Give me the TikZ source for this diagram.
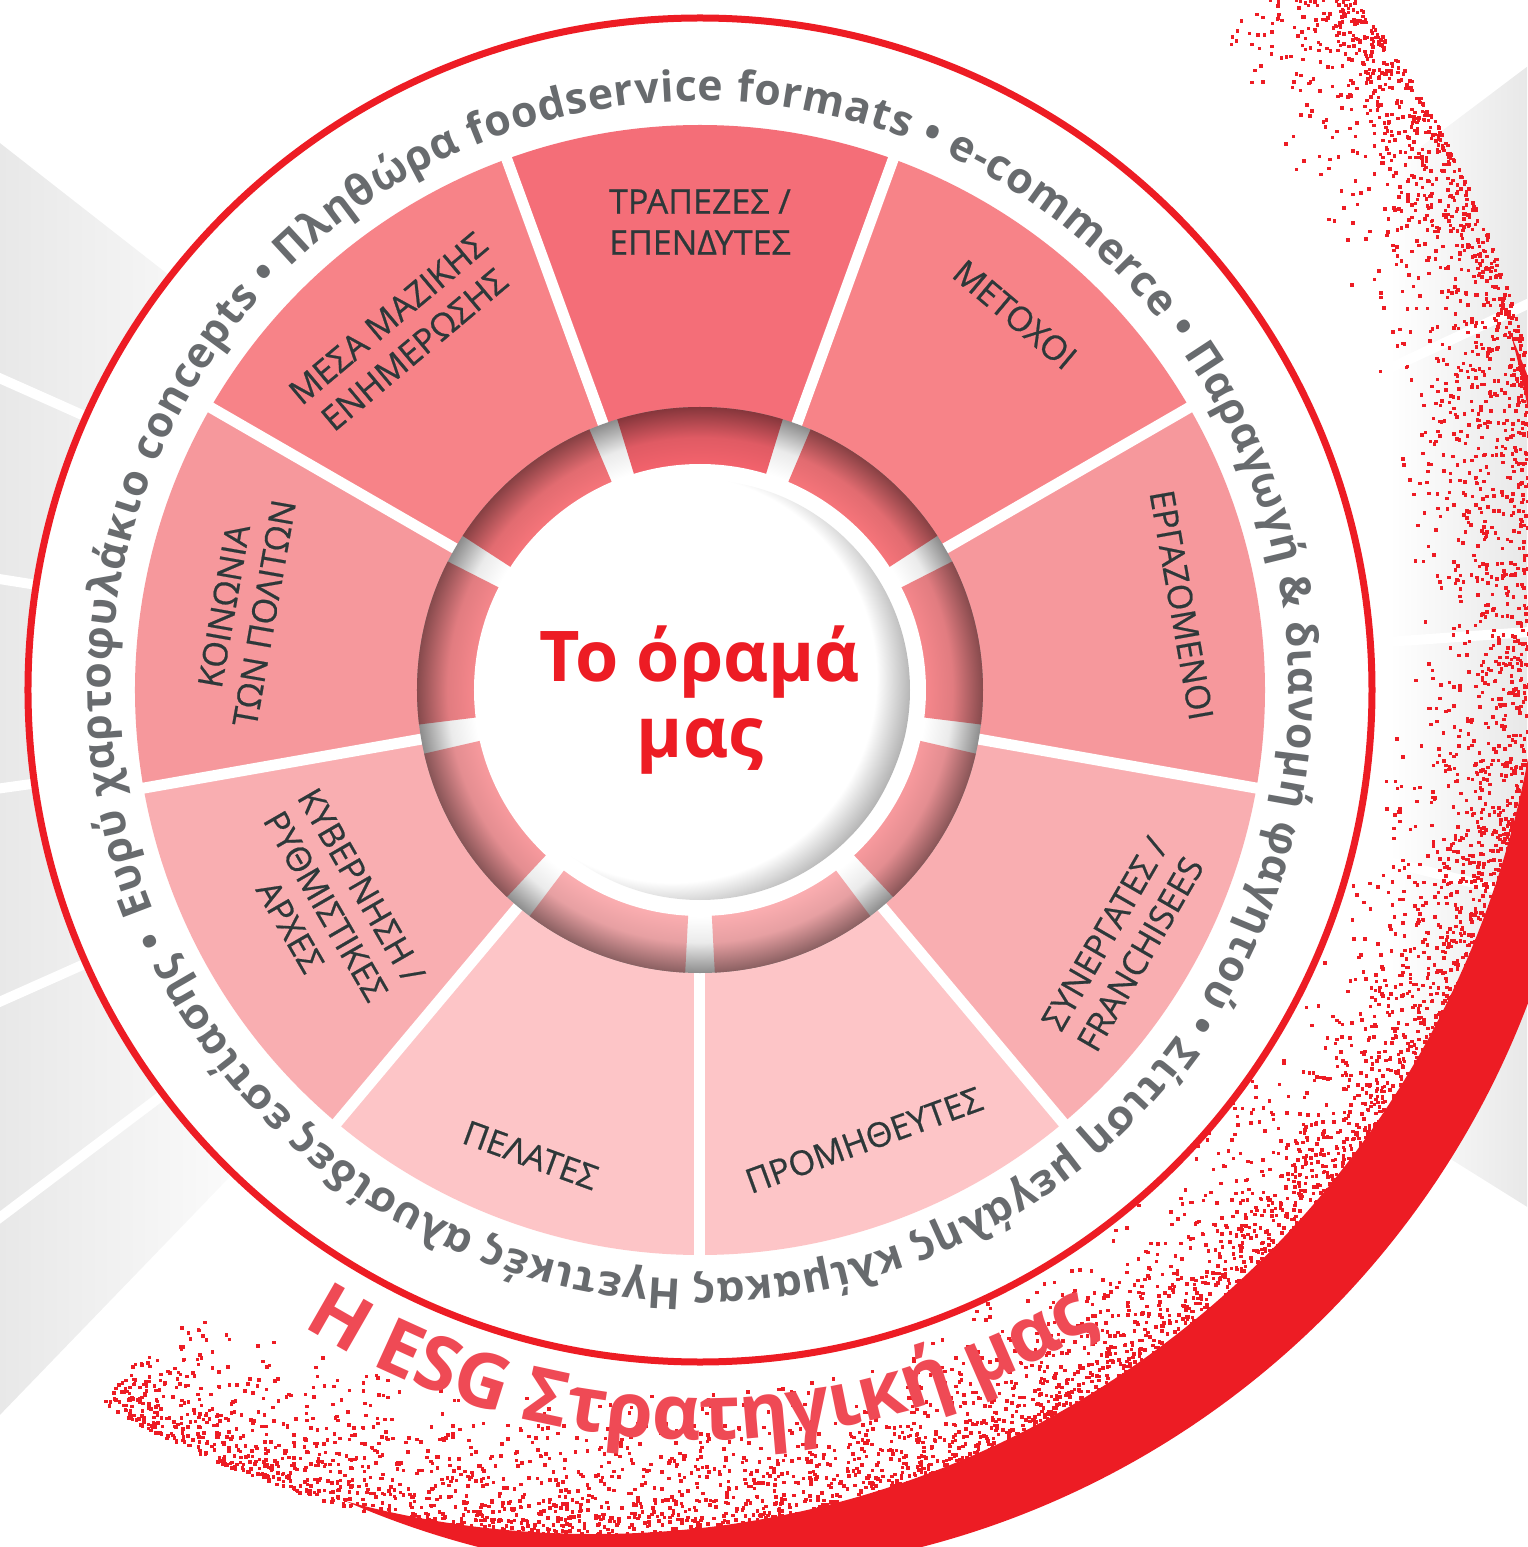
\documentclass[tikz,border=0pt]{standalone}
\usepackage{fontspec}
\setmainfont{Open Sans}
\newfontfamily\labelfont{Open Sans}[FakeBold=0.6]
\usetikzlibrary{decorations.text}

\definecolor{esgred}{RGB}{237,28,36}
\definecolor{titlered}{RGB}{239,74,85}
\definecolor{ringgray}{RGB}{104,107,110}
\definecolor{labelgray}{RGB}{45,56,57}
\definecolor{wedgeA}{RGB}{244,110,120}
\definecolor{wedgeB}{RGB}{247,131,136}
\definecolor{wedgeC}{RGB}{246,152,156}
\definecolor{wedgeD}{RGB}{249,174,177}
\definecolor{wedgeE}{RGB}{253,197,199}

\colorlet{tubecol}{white}
\pgfdeclareradialshading[tubecol]{tube}{\pgfpointorigin}{color(0bp)=(tubecol); color(20bp)=(tubecol); color(22.3bp)=(tubecol!92!black); color(25bp)=(tubecol!55!black); color(50bp)=(tubecol!55!black)}
\pgfdeclareradialshading{moon}{\pgfpointorigin}{color(0bp)=(white); color(21.3bp)=(white); color(25bp)=(gray!60); color(50bp)=(gray!60)}

\newcommand{\ringstyle}{\fontsize{21.4}{21.4}\selectfont\bfseries\color{ringgray}}
\newcommand{\titlestyle}{\fontsize{38}{38}\selectfont\bfseries\color{titlered}}

\tikzstyle{wedgelabel} = [text=labelgray, align=center, inner sep=0pt, font=\labelfont\fontsize{17}{20.5}\selectfont]
\tikzstyle{vision} = [text=esgred, align=center, inner sep=0pt, font=\fontsize{35}{38}\selectfont\bfseries]
\tikzstyle{separator} = [white, line width=5.5pt]
\tikzstyle{rayline} = [white, line width=5pt]

\begin{document}
\begin{tikzpicture}[x=0.5pt, y=0.5pt]
	\useasboundingbox (-700,-857) rectangle (827,690);

	% grey rays behind
	\begin{scope}
		\clip (0,0) -- (142:1500) -- (226:1500) -- cycle;
		\shade[left color=gray!18, right color=white] (-700,-857) rectangle (-410,690);
	\end{scope}
	\begin{scope}
		\clip (0,0) -- (37:1500) -- (-32:1500) -- cycle;
		\shade[left color=white, right color=gray!18] (690,-857) rectangle (827,690);
	\end{scope}
	\foreach \a in {156,171,188,204,217,25,4,-14}
		\draw[rayline] (0,0) -- (\a:1500);

	% red splatter
	\begin{scope}
		\clip (0,0) circle (885);
		\fill[esgred, even odd rule] (-1000,-1000) rectangle (1000,1000) (-106,106) circle (950);
	\end{scope}
	\pgfmathsetseed{42}
	\foreach \i in {1,...,5500}{
		\pgfmathsetmacro\dotang{-130+182*rnd}
		\pgfmathsetmacro\uo{1.06*sin(\dotang)-1.06*cos(\dotang)}
		\pgfmathsetmacro\inrad{100*(\uo+sqrt(\uo*\uo+88))}
		\pgfmathsetmacro\dotrad{\inrad+8-150*rnd*rnd}
		\fill[esgred] (\dotang:\dotrad) rectangle ++(3.5,3.5);
	}

	% main disc
	\filldraw[fill=white, draw=esgred, line width=3.5pt] (0,0) circle (672);

	% stakeholder wedges
	\foreach \a/\c in {90/wedgeA, 50/wedgeB, 130/wedgeB, 10/wedgeC, 170/wedgeC, -30/wedgeD, -150/wedgeD, -70/wedgeE, -110/wedgeE}
		\fill[\c] (\a-20:270) arc[start angle=\a-20, end angle=\a+20, radius=270] -- (\a+20:565) arc[start angle=\a+20, end angle=\a-20, radius=565] -- cycle;
	\foreach \a in {30,70,...,350}
		\draw[separator] (\a:260) -- (\a:575);

	% inner ring
	\shade[shading=tube] (0,0) circle (283);
	\foreach \a/\c in {90/wedgeA, 50/wedgeB, 130/wedgeB, 10/wedgeC, 170/wedgeC, -30/wedgeD, -150/wedgeD, -70/wedgeE, -110/wedgeE}{
		\begin{scope}
			\clip (\a-17:220) arc[start angle=\a-17, end angle=\a+17, radius=220] -- (\a+17:290) arc[start angle=\a+17, end angle=\a-17, radius=290] -- cycle;
			\colorlet{tubecol}{\c!86!esgred}
			\shade[shading=tube] (0,0) circle (283);
		\end{scope}
	}
	\fill[white] (0,0) circle (226);
	\begin{scope}
		\clip (0,0) circle (210);
		\shade[shading=moon] (-28,12) circle (240);
	\end{scope}

	\node[vision] (vision) at (0,-10) {Το όραμά\\μας};

	\node[wedgelabel] (banks) at (90:468) {ΤΡΑΠΕΖΕΣ /\\ΕΠΕΝΔΥΤΕΣ};
	\node[wedgelabel, rotate=-40] (shareholders) at (50:490) {ΜΕΤΟΧΟΙ};
	\node[wedgelabel, rotate=-80] (employees) at (10:489) {ΕΡΓΑΖΟΜΕΝΟΙ};
	\node[wedgelabel, rotate=60] (partners) at (-31:493) {ΣΥΝΕΡΓΑΤΕΣ /\\FRANCHISEES};
	\node[wedgelabel, rotate=20] (suppliers) at (-70:479) {ΠΡΟΜΗΘΕΥΤΕΣ};
	\node[wedgelabel, rotate=-20] (customers) at (-110:495) {ΠΕΛΑΤΕΣ};
	\node[wedgelabel, rotate=-60] (government) at (-150:432) {ΚΥΒΕΡΝΗΣΗ /\\ΡΥΘΜΙΣΤΙΚΕΣ\\ΑΡΧΕΣ};
	\node[wedgelabel, rotate=80] (society) at (170:463) {ΚΟΙΝΩΝΙΑ\\ΤΩΝ ΠΟΛΙΤΩΝ};
	\node[wedgelabel, rotate=40] (media) at (130:465) {ΜΕΣΑ ΜΑΖΙΚΗΣ\\ΕΝΗΜΕΡΩΣΗΣ};

	% text round the ring
	\path[decorate, decoration={text along path, text align={fit to path}, text={|\ringstyle|Ευρύ χαρτοφυλάκιο concepts • Πληθώρα foodservice formats • e-commerce • Παραγωγή {\&} διανομή φαγητού • Σίτιση μεγάλης κλίμακας Ηγετικές αλυσίδες εστίασης •}}]
		(202:589) arc[start angle=202, end angle=-156, radius=589];
	\path[decorate, decoration={text along path, text align=center, text={|\titlestyle|Η ESG Στρατηγική μας}}]
		(228:750) arc[start angle=228, end angle=312, radius=750];
\end{tikzpicture}
\end{document}
